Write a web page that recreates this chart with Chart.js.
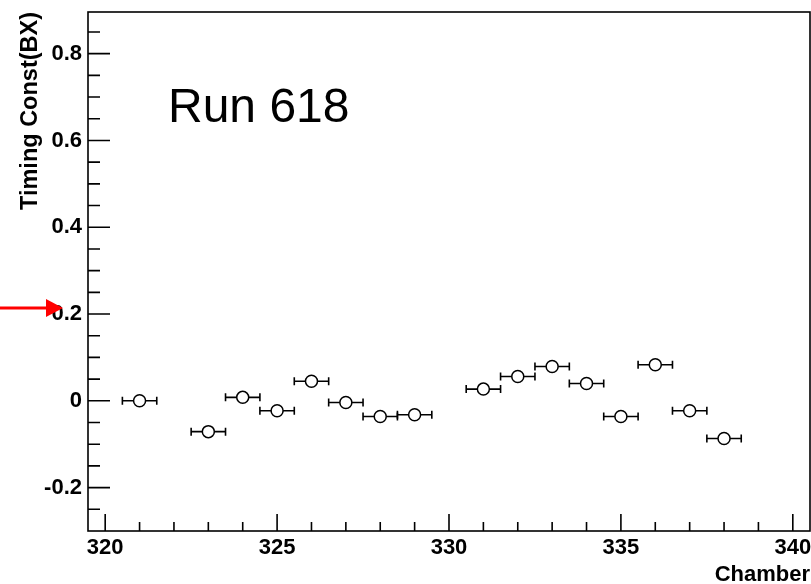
<!DOCTYPE html>
<html lang="en">
<head>
  <meta charset="UTF-8">
  <title>Run 618 Timing Const</title>
  <script src="https://cdn.jsdelivr.net/npm/chart.js"></script>
  <style>
    body { margin: 0; background: #fff; }
  </style>
</head>
<body>
  <canvas id="timingChart" width="811" height="584"></canvas>

  <script>
    // chamber numbers and fitted timing constants (BX)
    const chambers = [321, 323, 324, 325, 326, 327, 328, 329, 331, 332, 333, 334, 335, 336, 337, 338];
    const timingConst = [0.000, -0.071, 0.008, -0.023, 0.045, -0.004, -0.036, -0.032,
                         0.027, 0.056, 0.079, 0.040, -0.036, 0.083, -0.023, -0.087];
    const chamberErr = [0.5, 0.5, 0.5, 0.5, 0.5, 0.5, 0.5, 0.5, 0.5, 0.5, 0.5, 0.5, 0.5, 0.5, 0.5, 0.5];

    const xTickLabels = [320, 325, 330, 335, 340];
    const yTickLabels = [-0.2, 0, 0.2, 0.4, 0.6, 0.8];

    const FONT = '"Liberation Sans", Arial, sans-serif';

    // horizontal error bars, drawn under the markers
    const errorBars = {
      id: 'errorBars',
      beforeDatasetsDraw(chart) {
        const ctx = chart.ctx;
        const xs = chart.scales.x, ys = chart.scales.y;
        ctx.save();
        ctx.strokeStyle = '#000';
        ctx.lineWidth = 1.6;
        chambers.forEach((c, i) => {
          const y = ys.getPixelForValue(timingConst[i]);
          const x0 = xs.getPixelForValue(c - chamberErr[i]);
          const x1 = xs.getPixelForValue(c + chamberErr[i]);
          ctx.beginPath();
          ctx.moveTo(x0, y); ctx.lineTo(x1, y);
          ctx.moveTo(x0, y - 4); ctx.lineTo(x0, y + 4);
          ctx.moveTo(x1, y - 4); ctx.lineTo(x1, y + 4);
          ctx.stroke();
        });
        ctx.restore();
      }
    };

    // ROOT-like frame with inward ticks, plus the annotation and the arrow
    const frame = {
      id: 'frame',
      afterDraw(chart) {
        const ctx = chart.ctx;
        const a = chart.chartArea;
        const xs = chart.scales.x, ys = chart.scales.y;
        ctx.save();
        ctx.strokeStyle = '#000';
        ctx.lineWidth = 1.6;
        ctx.strokeRect(a.left, a.top, a.right - a.left, a.bottom - a.top);

        ctx.beginPath();
        for (let v = 320; v <= 340; v++) {
          const x = xs.getPixelForValue(v);
          const len = v % 5 === 0 ? 17 : 9;
          ctx.moveTo(x, a.bottom); ctx.lineTo(x, a.bottom - len);
        }
        for (let k = -5; k <= 17; k++) {
          const v = k * 0.05;
          const y = ys.getPixelForValue(v);
          if (y < a.top + 1 || y > a.bottom - 1) continue;
          const len = k % 4 === 0 ? 22 : 12;
          ctx.moveTo(a.left, y); ctx.lineTo(a.left + len, y);
        }
        ctx.stroke();

        ctx.fillStyle = '#000';
        ctx.font = '48px ' + FONT;
        ctx.textAlign = 'left';
        ctx.textBaseline = 'alphabetic';
        ctx.fillText('Run 618', 168, 122);

        // red arrow pointing at 0.2
        const ya = ys.getPixelForValue(0.2) - 6;
        ctx.strokeStyle = '#ff0000';
        ctx.fillStyle = '#ff0000';
        ctx.lineWidth = 3;
        ctx.beginPath();
        ctx.moveTo(0, ya); ctx.lineTo(48, ya);
        ctx.stroke();
        ctx.beginPath();
        ctx.moveTo(46, ya - 9);
        ctx.lineTo(63, ya);
        ctx.lineTo(46, ya + 9);
        ctx.closePath();
        ctx.fill();
        ctx.restore();
      }
    };

    const points = chambers.map((c, i) => ({ x: c, y: timingConst[i] }));

    new Chart(document.getElementById('timingChart'), {
      type: 'scatter',
      data: {
        datasets: [{
          label: 'Timing Const',
          data: points,
          pointStyle: 'circle',
          pointRadius: 6,
          pointHoverRadius: 6,
          pointBackgroundColor: '#fff',
          pointBorderColor: '#000',
          pointBorderWidth: 1.5
        }]
      },
      options: {
        responsive: false,
        animation: false,
        events: [],
        layout: { autoPadding: false, padding: { top: 12, right: 1, left: 0, bottom: 0 } },
        plugins: { legend: { display: false }, tooltip: { enabled: false } },
        scales: {
          x: {
            type: 'linear',
            min: 319.5,
            max: 340.5,
            afterFit: s => { s.height = 53; s.paddingLeft = 0; s.paddingRight = 0; },
            afterBuildTicks: s => { s.ticks = xTickLabels.map(v => ({ value: v })); },
            grid: { display: false, drawTicks: false },
            border: { display: false },
            ticks: {
              padding: 4,
              color: '#000',
              maxRotation: 0,
              autoSkip: false,
              font: { family: FONT, size: 22, weight: 'bold' },
              callback: v => String(v)
            },
            title: {
              display: true,
              text: 'Chamber',
              align: 'end',
              color: '#000',
              padding: { top: 0, bottom: -2 },
              font: { family: FONT, size: 22, weight: 'bold', lineHeight: 1 }
            }
          },
          y: {
            type: 'linear',
            min: -0.3,
            max: 0.896,
            afterFit: s => { s.width = 88; s.paddingTop = 0; s.paddingBottom = 0; },
            afterBuildTicks: s => { s.ticks = yTickLabels.map(v => ({ value: v })); },
            grid: { display: false, drawTicks: false },
            border: { display: false },
            ticks: {
              padding: 6,
              color: '#000',
              autoSkip: false,
              font: { family: FONT, size: 22, weight: 'bold' },
              callback: v => String(Math.round(v * 10) / 10)
            },
            title: {
              display: true,
              text: 'Timing Const(BX)',
              align: 'end',
              color: '#000',
              padding: { top: 19, bottom: 0 },
              font: { family: FONT, size: 23.5, weight: 'bold', lineHeight: 1 }
            }
          }
        }
      },
      plugins: [errorBars, frame]
    });
  </script>
</body>
</html>
